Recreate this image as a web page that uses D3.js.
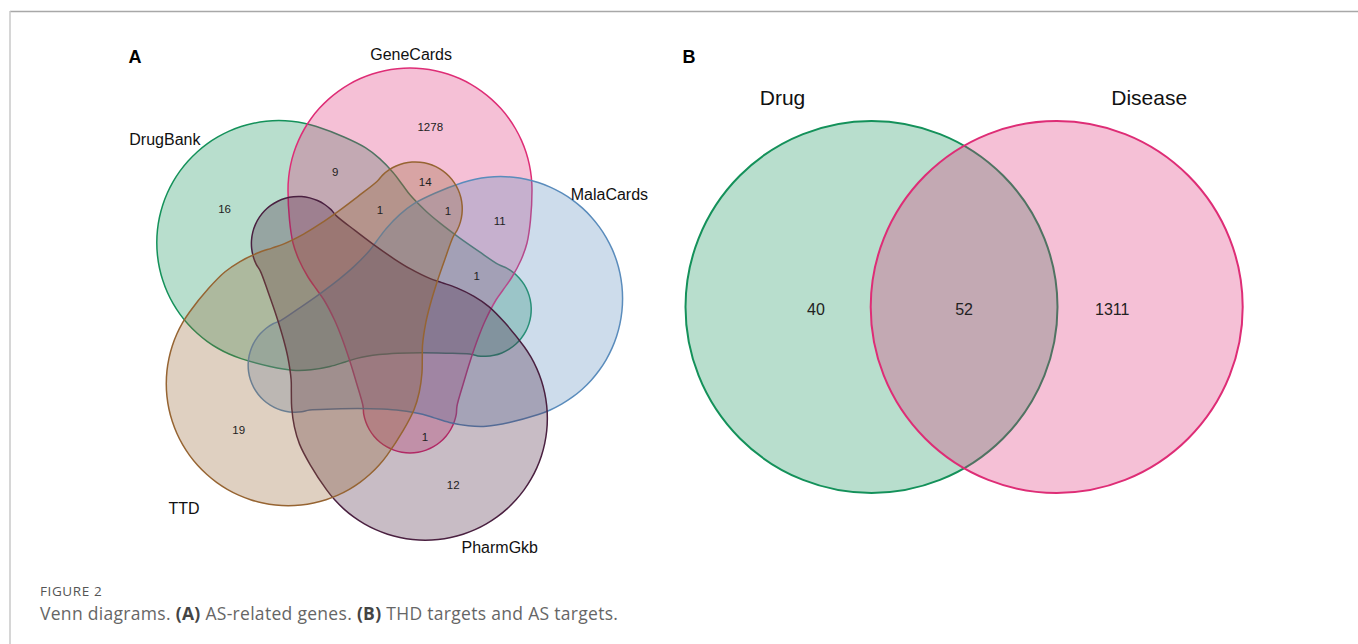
<!DOCTYPE html>
<html><head><meta charset="utf-8">
<script src="https://cdn.jsdelivr.net/npm/d3@7"></script>
<style>
html,body{margin:0;padding:0;background:#fff;}
svg{display:block;}
</style></head>
<body>
<svg id="fig" width="1358" height="644"></svg>
<script>
// ---- Panel A: AS-related genes from five databases ----
const setNames  = ["DrugBank", "GeneCards", "MalaCards", "PharmGkb", "TTD"];
const setColors = ["#14915a", "#de2d76", "#5a8cbc", "#4a2040", "#966432"];
// lobe rotation (degrees, clockwise) of each set in the five-fold diagram
const setAngles = [288, 0, 72, 144, 216];

// non-empty regions: which sets they belong to, and how many genes
const regionSets = [
  ["GeneCards"], ["DrugBank"], ["TTD"], ["PharmGkb"],
  ["GeneCards", "DrugBank"], ["GeneCards", "TTD"], ["GeneCards", "MalaCards"],
  ["GeneCards", "DrugBank", "TTD"], ["GeneCards", "TTD", "MalaCards"],
  ["GeneCards", "DrugBank", "MalaCards"], ["GeneCards", "PharmGkb"]
];
const regionCounts = [1278, 16, 19, 12, 9, 14, 11, 1, 1, 1, 1];

// ---- Panel B: THD (drug) targets vs AS (disease) targets ----
const pairNames  = ["Drug", "Disease"];
const pairColors = ["#14915a", "#de2d76"];
const pairCounts = [40, 52, 1311];   // drug only, shared, disease only

const figureTag = "FIGURE 2";

// ---- layout ----
const svg = d3.select("#fig");
const font = "'Liberation Sans', Arial, sans-serif";

// frame lines
svg.append("line").attr("x1", 10).attr("x2", 1358).attr("y1", 11.5).attr("y2", 11.5)
  .attr("stroke", "#a8a8a8").attr("stroke-width", 1.5);
svg.append("line").attr("x1", 10).attr("x2", 10).attr("y1", 11).attr("y2", 644)
  .attr("stroke", "#c8c8c8").attr("stroke-width", 1.5);

// panel letters
svg.append("text").attr("x", 135).attr("y", 63).attr("text-anchor", "middle")
  .attr("font-family", font).attr("font-weight", "bold").attr("font-size", 18).text("A");
svg.append("text").attr("x", 689).attr("y", 63).attr("text-anchor", "middle")
  .attr("font-family", font).attr("font-weight", "bold").attr("font-size", 18).text("B");

// ===== Panel A =====
const vA = { cx: 380.6, cy: 306.6, axis: 29.4 };
// lobe geometry (axis frame, head pointing up): round head, tapering neck, round tail
const head = { y: -116.6, r: 122 };
const tail = { y: 99.4, r: 47 };
// half-width of the neck between the head centre and the tail centre
const neckProfile = [
  [-86.6, 120.5], [-63.6, 117], [-46.6, 111], [-29.6, 102], [-16.6, 93], [-6.6, 86],
  [13.4, 75.5], [30.4, 68.5], [53.4, 60.5], [76.4, 53.5]
];
const lobeOutline = [];
for (let a = 180; a < 360; a += 6) {            // head, left -> top -> right
  const t = a * Math.PI / 180;
  lobeOutline.push([vA.axis + head.r * Math.cos(t), head.y + head.r * Math.sin(t)]);
}
lobeOutline.push([vA.axis + head.r, head.y]);
neckProfile.forEach(([y, w]) => lobeOutline.push([vA.axis + w, y]));
for (let a = 0; a <= 180; a += 10) {            // tail, right -> bottom -> left
  const t = a * Math.PI / 180;
  lobeOutline.push([vA.axis + tail.r * Math.cos(t), tail.y + tail.r * Math.sin(t)]);
}
neckProfile.slice().reverse().forEach(([y, w]) => lobeOutline.push([vA.axis - w, y]));

function rotated(pts, deg) {
  const t = deg * Math.PI / 180, c = Math.cos(t), s = Math.sin(t);
  return pts.map(([x, y]) => [vA.cx + x * c - y * s, vA.cy + x * s + y * c]);
}
const lobeLine = d3.line().curve(d3.curveCatmullRomClosed.alpha(0.5));

const gA = svg.append("g");
const lobes = setNames.map((name, i) => {
  const p = gA.append("path")
    .attr("d", lobeLine(rotated(lobeOutline, setAngles[i])))
    .attr("fill", setColors[i]).attr("fill-opacity", 0.3)
    .attr("stroke", setColors[i]).attr("stroke-width", 1.5);
  // dense polygon of the drawn outline, for region membership tests
  const node = p.node(), L = node.getTotalLength(), poly = [];
  for (let l = 0; l < L; l += 3) { const q = node.getPointAtLength(l); poly.push([q.x, q.y]); }
  return { name, poly };
});

// locate each region by the centroid of the grid cells that fall inside exactly its sets
const sums = new Map();
for (let x = 150; x <= 640; x += 2) {
  for (let y = 60; y <= 560; y += 2) {
    let mask = 0;
    lobes.forEach((lb, i) => { if (d3.polygonContains(lb.poly, [x, y])) mask |= (1 << i); });
    if (!mask) continue;
    const s = sums.get(mask) || { x: 0, y: 0, n: 0 };
    s.x += x; s.y += y; s.n++; sums.set(mask, s);
  }
}
regionSets.forEach((sets, k) => {
  const mask = sets.reduce((m, nm) => m | (1 << setNames.indexOf(nm)), 0);
  const s = sums.get(mask);
  if (!s) return;
  gA.append("text").attr("x", s.x / s.n + 3).attr("y", s.y / s.n + 3)
    .attr("text-anchor", "middle").attr("dominant-baseline", "central")
    .attr("font-family", font).attr("font-size", 11.5).attr("fill", "#222")
    .text(regionCounts[k]);
});

// set names around the diagram (polar offsets from the diagram centre)
const setLabelPolar = { GeneCards: [-83.1, 254], MalaCards: [-26.2, 255], PharmGkb: [63.7, 269],
                        TTD: [134.2, 282], DrugBank: [217.8, 273] };
setNames.forEach(name => {
  const [a, r] = setLabelPolar[name], t = a * Math.PI / 180;
  gA.append("text").attr("x", vA.cx + r * Math.cos(t)).attr("y", vA.cy + r * Math.sin(t))
    .attr("text-anchor", "middle").attr("dominant-baseline", "central")
    .attr("font-family", font).attr("font-size", 16).attr("fill", "#111").text(name);
});

// ===== Panel B =====
const vB = { cx: 964.1, cy: 307, r: 186, sep: 185.2 };
const xB = d3.scaleLinear().domain([-1, 1]).range([vB.cx - vB.sep / 2, vB.cx + vB.sep / 2]);
const gB = svg.append("g");
pairNames.forEach((name, i) => {
  const cx = xB(i === 0 ? -1 : 1);
  gB.append("circle").attr("cx", cx).attr("cy", vB.cy).attr("r", vB.r)
    .attr("fill", pairColors[i]).attr("fill-opacity", 0.3)
    .attr("stroke", pairColors[i]).attr("stroke-width", 2);
  gB.append("text").attr("x", cx + (i === 0 ? -89 : 92.5)).attr("y", vB.cy - vB.r - 24)
    .attr("text-anchor", "middle").attr("dominant-baseline", "central")
    .attr("font-family", font).attr("font-size", 21).attr("fill", "#111").text(name);
});
// region label positions along the axis: drug-only, shared, disease-only
const bPos = [-1.6, 0, 1.6];
pairCounts.forEach((v, i) => {
  gB.append("text").attr("x", xB(bPos[i])).attr("y", vB.cy + 2)
    .attr("text-anchor", "middle").attr("dominant-baseline", "central")
    .attr("font-family", font).attr("font-size", 16).attr("fill", "#222").text(v);
});

// ===== caption =====
const capFont = "'Open Sans', Lato, sans-serif";
svg.append("text").attr("x", 40).attr("y", 596).attr("font-family", capFont)
  .attr("font-size", 13.5).attr("letter-spacing", 0.6).attr("fill", "#555").text(figureTag);
const cap = svg.append("text").attr("x", 40).attr("y", 620).attr("font-family", capFont)
  .attr("font-size", 17.5).attr("letter-spacing", 0.3).attr("fill", "#666");
[["Venn diagrams. ", 400], ["(A)", 700], [" AS-related genes. ", 400], ["(B)", 700],
 [" THD targets and AS targets.", 400]].forEach(([t, w]) =>
  cap.append("tspan").attr("font-weight", w).attr("fill", w > 400 ? "#444" : "#666").text(t));
</script>
</body></html>
